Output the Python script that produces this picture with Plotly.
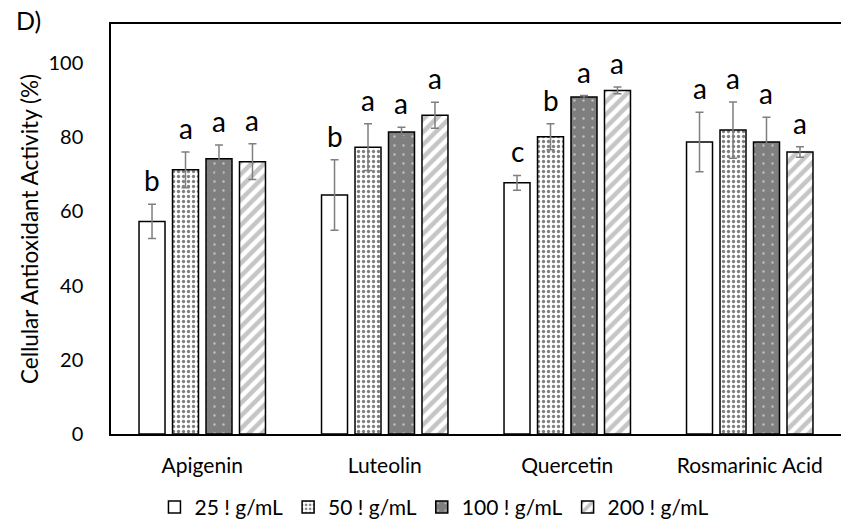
import plotly.graph_objects as go

categories = ["Apigenin", "Luteolin", "Quercetin", "Rosmarinic Acid"]
series_names = ["25 ! g/mL", "50 ! g/mL", "100 ! g/mL", "200 ! g/mL"]
v25 = [57.3, 64.4, 67.7, 78.7]
v50 = [71.2, 77.3, 80.1, 81.9]
v100 = [74.2, 81.4, 90.8, 78.7]
v200 = [73.4, 85.9, 92.6, 76.0]
e25 = [4.6, 9.5, 2.0, 8.0]
e50 = [4.8, 6.3, 3.5, 7.6]
e100 = [3.7, 1.3, 0.4, 6.7]
e200 = [4.8, 3.5, 0.9, 1.4]
l25 = ["b", "b", "c", "a"]
l50 = ["a", "a", "b", "a"]
l100 = ["a", "a", "a", "a"]
l200 = ["a", "a", "a", "a"]

values = [v25, v50, v100, v200]
errors = [e25, e50, e100, e200]
letters = [l25, l50, l100, l200]

patterns = [
    dict(shape="", fgcolor="black", bgcolor="white"),
    dict(shape=".", fgcolor="black", bgcolor="white", size=5, solidity=0.35),
    dict(shape=".", fgcolor="white", bgcolor="#7f7f7f", size=9, solidity=0.06),
    dict(shape="/", fgcolor="#8c8c8c", bgcolor="white", size=9, solidity=0.5),
]
base_colors = ["white", "white", "#7f7f7f", "white"]

FONT = "Lato"
fig = go.Figure()
for k in range(4):
    fig.add_trace(go.Bar(
        x=categories, y=values[k], name=series_names[k],
        marker=dict(color=base_colors[k], pattern=patterns[k],
                    line=dict(color="black", width=1.5)),
        error_y=dict(type="data", array=errors[k], color="#7f7f7f",
                     thickness=1.5, width=4),
    ))

bargap = 0.266
slot = (1 - bargap) / 4
annotations = []
for k in range(4):
    for i in range(len(categories)):
        annotations.append(dict(
            x=i + (k - 1.5) * slot, y=values[k][i] + errors[k][i],
            xref="x", yref="y", text=letters[k][i], showarrow=False,
            yanchor="middle", yshift=24,
            font=dict(family=FONT, size=28, color="black")))
annotations.append(dict(x=-0.133, y=1.0098, xref="paper", yref="paper",
                        text="D)", showarrow=False, xanchor="left",
                        yanchor="middle",
                        font=dict(family=FONT, size=25, color="black")))

fig.update_layout(
    width=841, height=524,
    margin=dict(l=111, r=0, t=24, b=90),
    paper_bgcolor="white", plot_bgcolor="white",
    barmode="group", bargap=bargap, bargroupgap=0.224,
    font=dict(family=FONT, size=21, color="black"),
    annotations=annotations,
    legend=dict(orientation="h", xref="container", yref="container",
                x=0.516, xanchor="center", y=0.032, yanchor="middle",
                font=dict(family=FONT, size=21, color="black"),
                itemwidth=30, traceorder="normal"),
    xaxis=dict(showline=True, linecolor="black", linewidth=1.5, mirror=True,
               ticks="", showgrid=False, ticklabelstandoff=12,
               tickfont=dict(family=FONT, size=21)),
    yaxis=dict(range=[0, 110.5], tickvals=[0, 20, 40, 60, 80, 100],
               showline=True, linecolor="black", linewidth=1.5,
               ticks="", showgrid=False, zeroline=False,
               ticklabelstandoff=22,
               tickfont=dict(family=FONT, size=20),
               title=dict(text="Cellular Antioxidant Activity (%)",
                          font=dict(family=FONT, size=22.5), standoff=4)),
)

fig.write_html("out.html")
